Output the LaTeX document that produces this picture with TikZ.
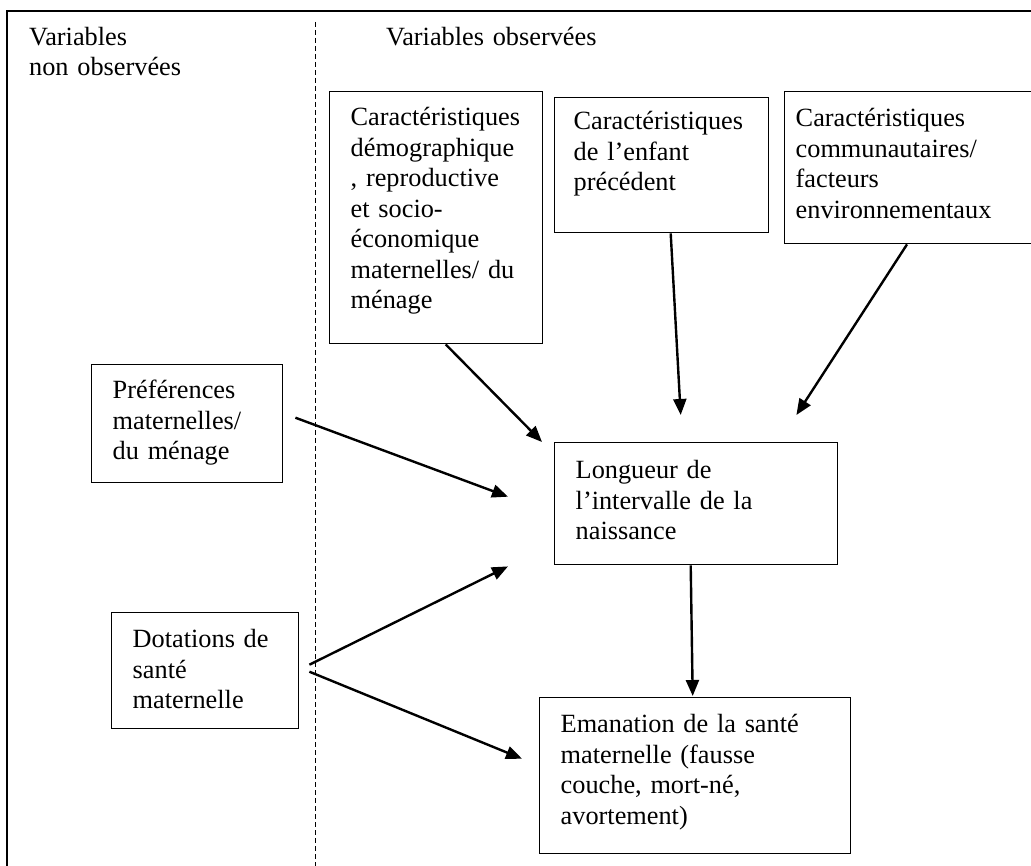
\documentclass[tikz,border=0pt]{standalone}
\usepackage{fontspec}
\setmainfont{Liberation Serif}
\usepackage{tikz}
\usetikzlibrary{arrows.meta, calc}

\begin{document}
\begin{tikzpicture}[
        x=1pt, y=-1pt,
        font=\fontsize{26.3pt}{30.5pt}\selectfont,
        box/.style={
            draw,
            line width=1.4pt,
            anchor=north west,
            align=left,
            inner xsep=21pt,
            inner ysep=0pt,
            text height=34pt
        },
        arrow/.style={-{Triangle[length=16pt, width=13pt]}, line width=2.4pt},
        frame/.style={line width=2pt},
        divider/.style={line width=1pt, dash pattern=on 5pt off 3pt},
        heading/.style={anchor=north west, align=left, inner sep=0pt, text width=260pt, text height=20pt}
    ]

        \clip (0,0) rectangle (1031,866);

        % ---- Frame and split ----
        \draw[frame] (7,880) -- (7,11) -- (1050,11);
        \draw[divider] (315,22) -- (315,880);

        \node[heading] (unobs) at (29,25) {Variables\\non observées};
        \node[heading] (obs) at (386,25) {Variables observées};

        % ---- Nodes ----
        \node[box, text width=171pt, text depth=218pt] (demo) at (329,91)
            {Caractéristiques\\démographique\\, reproductive\\et socio-\\économique\\maternelles/ du\\ménage};
        \node[box, inner xsep=19pt, text width=176pt, text height=32pt, text depth=103pt] (enfant) at (554,97)
            {Caractéristiques\\de l’enfant\\précédent};
        \node[box, inner xsep=11pt, text width=250pt, text height=35pt, text depth=117pt] (commu) at (784,91)
            {Caractéristiques\\communautaires/\\facteurs\\environnementaux};

        \node[box, text width=149pt, text depth=84pt] (pref) at (91,364)
            {Préférences\\maternelles/\\du ménage};
        \node[box, text width=145pt, text height=35pt, text depth=81pt] (dot) at (111,612)
            {Dotations de\\santé\\maternelle};

        \node[box, text width=241pt, text height=36pt, text depth=86pt] (long) at (554,442)
            {Longueur de\\l’intervalle de la\\naissance};
        \node[box, text width=269pt, text height=35pt, text depth=121pt] (eman) at (539,697)
            {Emanation de la santé\\maternelle (fausse\\couche, mort-né,\\avortement)};

        % ---- Arrows ----
        \draw[arrow] ($(demo.south)+(9.5,0)$) -- ($(long.north west)+(-12,0)$);
        \draw[arrow] ($(enfant.south)+(9,0)$) -- ($(long.north)+(-15.5,-27)$);
        \draw[arrow] ($(commu.south west)+(123,0)$) -- ($(long.north east)+(-42,-27)$);
        \draw[arrow] ($(pref.east)+(12,-6)$) -- ($(long.west)+(-46,-7)$);
        \draw[arrow] ($(dot.east)+(10,-6)$) -- ($(long.south west)+(-46,1)$);
        \draw[arrow] ($(dot.east)+(10,1)$) -- ($(eman.west)+(-17,-17)$);
        \draw[arrow] ($(long.south)+(-5.5,0)$) -- ($(eman.north)+(-2.5,-1)$);

    \end{tikzpicture}
\end{document}
